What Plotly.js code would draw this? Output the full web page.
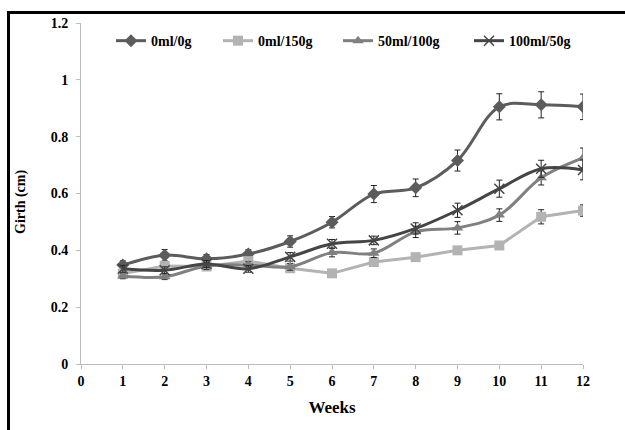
<!DOCTYPE html>
<html>
<head>
<meta charset="utf-8">
<script src="https://cdn.plot.ly/plotly-3.0.1.min.js"></script>
<style>
  html, body { margin: 0; padding: 0; background: #fff; }
  #wrap { position: relative; width: 625px; height: 430px; overflow: hidden; }
  #chart { position: absolute; left: 0; top: 0; width: 625px; height: 430px; }
  #frame { position: absolute; left: 7px; top: 11px; width: 700px; height: 500px;
           border-left: 3px solid #000; border-top: 3px solid #000; pointer-events: none; }
</style>
</head>
<body>
<div id="wrap">
  <div id="chart"></div>
  <div id="frame"></div>
</div>
<script>
const weeks = [1, 2, 3, 4, 5, 6, 7, 8, 9, 10, 11, 12];
const seriesNames = ["0ml/0g", "0ml/150g", "50ml/100g", "100ml/50g"];
const girth0_0 = [0.348, 0.383, 0.370, 0.387, 0.431, 0.499, 0.598, 0.620, 0.716, 0.905, 0.912, 0.905];
const err0_0 = [0.015, 0.02, 0.015, 0.015, 0.02, 0.02, 0.03, 0.031, 0.037, 0.046, 0.046, 0.045];
const girth0_150 = [0.318, 0.345, 0.343, 0.362, 0.337, 0.319, 0.359, 0.376, 0.400, 0.417, 0.518, 0.540];
const err0_150 = [0.01, 0.015, 0.01, 0.012, 0.01, 0.01, 0.012, 0.012, 0.013, 0.014, 0.025, 0.02];
const girth50_100 = [0.310, 0.307, 0.345, 0.348, 0.342, 0.392, 0.390, 0.465, 0.479, 0.524, 0.655, 0.725];
const err50_100 = [0.01, 0.01, 0.012, 0.012, 0.012, 0.015, 0.015, 0.02, 0.022, 0.022, 0.025, 0.035];
const girth100_50 = [0.335, 0.330, 0.352, 0.335, 0.377, 0.423, 0.435, 0.477, 0.541, 0.617, 0.687, 0.683];
const err100_50 = [0.012, 0.012, 0.012, 0.012, 0.015, 0.015, 0.015, 0.02, 0.025, 0.03, 0.03, 0.035];
const xTicks = [0, 1, 2, 3, 4, 5, 6, 7, 8, 9, 10, 11, 12];
const yTicks = [0, 0.2, 0.4, 0.6, 0.8, 1, 1.2];
const yTickText = ["0", "0.2", "0.4", "0.6", "0.8", "1", "1.2"];
const xTitle = "Weeks";
const yTitle = "Girth (cm)";

const serif = "Liberation Serif, Times New Roman, serif";

function errBar(arr) {
  return { type: "data", array: arr, visible: true, color: "#222", thickness: 1, width: 3 };
}

const traces = [
  { x: weeks, y: girth0_0, name: seriesNames[0], legend: "legend", mode: "lines+markers",
    line: { color: "#5c5c5c", width: 3, shape: "spline" },
    marker: { symbol: "diamond", size: 10, color: "#5c5c5c" },
    error_y: errBar(err0_0) },
  { x: weeks, y: girth0_150, name: seriesNames[1], legend: "legend2", mode: "lines+markers",
    line: { color: "#b3b3b3", width: 3 },
    marker: { symbol: "square", size: 10, color: "#b3b3b3" },
    error_y: errBar(err0_150) },
  { x: weeks, y: girth50_100, name: seriesNames[2], legend: "legend3", mode: "lines+markers",
    line: { color: "#808080", width: 3, shape: "spline" },
    marker: { symbol: "triangle-up", size: 10, color: "#808080" },
    error_y: errBar(err50_100) },
  { x: weeks, y: girth100_50, name: seriesNames[3], legend: "legend4", mode: "lines+markers",
    line: { color: "#454545", width: 3, shape: "spline" },
    marker: { symbol: "x-thin-open", size: 10, color: "#454545", line: { width: 1.5, color: "#454545" } },
    error_y: errBar(err100_50) }
];

const legFont = { family: serif, size: 14, color: "#000", weight: "bold" };
function leg(px) {
  return { x: (px - 81) / 502, y: 0.947, xanchor: "left", yanchor: "middle",
           orientation: "h", font: legFont, bgcolor: "rgba(0,0,0,0)", borderwidth: 0 };
}

const layout = {
  width: 625, height: 430,
  margin: { l: 81, r: 42, t: 23, b: 66 },
  paper_bgcolor: "#fff", plot_bgcolor: "#fff",
  showlegend: true,
  legend: leg(111),
  legend2: leg(218),
  legend3: leg(338),
  legend4: leg(469),
  xaxis: {
    range: [0, 12], tickvals: xTicks, ticktext: xTicks.map(String),
    showgrid: false, zeroline: false, showline: true, linecolor: "#bdbdbd", linewidth: 1,
    ticks: "outside", ticklen: 4, tickcolor: "#bdbdbd",
    tickfont: { family: serif, size: 14, color: "#000", weight: "bold" },
    title: { text: xTitle, font: { family: serif, size: 17, color: "#000", weight: "bold" }, standoff: 13 }
  },
  yaxis: {
    range: [0, 1.2], tickvals: yTicks, ticktext: yTickText,
    showgrid: false, zeroline: false, showline: true, linecolor: "#bdbdbd", linewidth: 1,
    ticks: "outside", ticklen: 4, tickcolor: "#bdbdbd", ticklabelstandoff: 5,
    tickfont: { family: serif, size: 14, color: "#000", weight: "bold" }
  },
  annotations: [
    { text: yTitle, textangle: -90, xref: "paper", yref: "paper",
      x: (21 - 81) / 502, y: (364 - 202) / 341, xanchor: "center", yanchor: "middle",
      showarrow: false, font: { family: serif, size: 14, color: "#000", weight: "bold" } }
  ]
};

Plotly.newPlot("chart", traces, layout, { displayModeBar: false, staticPlot: true });
</script>
</body>
</html>
